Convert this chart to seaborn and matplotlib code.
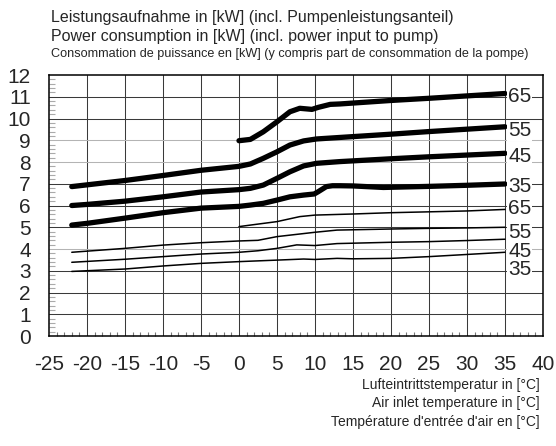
import seaborn as sns
import numpy as np
import pandas as pd
from matplotlib import pyplot as plt
from matplotlib.ticker import MultipleLocator
from matplotlib import font_manager

# air inlet temperature [°C] and power consumption [kW] per flow temperature
t_65_hi = [0, 1.5, 3.2, 5.0, 6.7, 8.0, 9.6, 10.4, 12, 13.3, 20, 25, 30, 35]
p_65_hi = [8.98, 9.04, 9.39, 9.85, 10.31, 10.47, 10.42, 10.51, 10.65, 10.67, 10.83, 10.93, 11.04, 11.15]

t_55_hi = [-22, -20, -15, -10, -5, 0, 1.5, 3.2, 5.0, 6.7, 8.5, 10.2, 13.3, 20, 25, 30, 35]
p_55_hi = [6.87, 6.95, 7.15, 7.38, 7.62, 7.80, 7.91, 8.17, 8.47, 8.78, 8.97, 9.06, 9.13, 9.28, 9.40, 9.51, 9.62]

t_45_hi = [-22, -20, -15, -10, -5, 0, 1.5, 3.2, 5.0, 6.7, 8.5, 10.2, 13.3, 20, 25, 30, 35]
p_45_hi = [6.00, 6.05, 6.20, 6.40, 6.62, 6.73, 6.79, 6.94, 7.25, 7.55, 7.82, 7.94, 8.02, 8.15, 8.24, 8.32, 8.40]

t_35_hi = [-22, -20, -15, -10, -5, 0, 1.5, 3.2, 5.0, 6.7, 8.5, 9.9, 10.4, 11.5, 12.3, 13.3, 15, 19, 25, 30, 35]
p_35_hi = [5.10, 5.18, 5.42, 5.67, 5.88, 5.96, 6.02, 6.10, 6.25, 6.40, 6.48, 6.53, 6.63, 6.87, 6.91, 6.91, 6.90, 6.83, 6.88, 6.93, 6.99]

t_65_lo = [0, 1.5, 5, 8, 10, 15, 20, 25, 30, 35]
p_65_lo = [5.03, 5.10, 5.26, 5.49, 5.56, 5.61, 5.67, 5.71, 5.75, 5.82]

t_55_lo = [-22, -15, -10, -5, 0, 2.5, 5, 8, 10, 12.9, 20, 25, 30, 35]
p_55_lo = [3.85, 4.03, 4.18, 4.29, 4.37, 4.40, 4.57, 4.69, 4.77, 4.87, 4.92, 4.95, 4.97, 5.00]

t_45_lo = [-22, -15, -10, -5, 0, 2.5, 5, 7.6, 10, 12.9, 20, 25, 30, 35]
p_45_lo = [3.39, 3.53, 3.65, 3.77, 3.85, 3.92, 4.03, 4.19, 4.16, 4.25, 4.31, 4.34, 4.39, 4.45]

t_35_lo = [-22, -15, -10, -5, 0, 5, 8.5, 10, 12.9, 15, 20, 25, 30, 35]
p_35_lo = [2.97, 3.08, 3.22, 3.34, 3.42, 3.49, 3.54, 3.52, 3.57, 3.55, 3.57, 3.65, 3.75, 3.85]

curve_labels = ["65", "55", "45", "35", "65", "55", "45", "35"]
label_y = [11.03, 9.44, 8.24, 6.87, 5.88, 4.77, 3.88, 3.08]

curves = [
    (t_65_hi, p_65_hi, "thick"), (t_55_hi, p_55_hi, "thick"),
    (t_45_hi, p_45_hi, "thick"), (t_35_hi, p_35_hi, "thick"),
    (t_65_lo, p_65_lo, "thin"), (t_55_lo, p_55_lo, "thin"),
    (t_45_lo, p_45_lo, "thin"), (t_35_lo, p_35_lo, "thin"),
]

sns.set_style("white")
plt.rcParams['font.family'] = ['Liberation Sans', 'DejaVu Sans']
plt.rcParams['axes.unicode_minus'] = False
names = set(f.name for f in font_manager.fontManager.ttflist)
narrow = 'Liberation Sans Narrow' if 'Liberation Sans Narrow' in names else 'Liberation Sans'
narrow_size = 9.65 if narrow == 'Liberation Sans Narrow' else 9.1

fig = plt.figure(figsize=(5.56, 4.46), dpi=100)
ax = fig.add_axes([0.0881, 0.2466, 0.8885, 0.5852])

# grid
for gx in range(-20, 40, 5):
    ax.axvline(gx, color='#3a3a3a', lw=0.75, zorder=1)
for gy in range(1, 12):
    c = '#b4b4b4' if gy in (4, 8, 9) else '#3a3a3a'
    ax.axhline(gy, color=c, lw=0.75, zorder=1)

for t, p, kind in curves:
    df = pd.DataFrame({"t": t, "p": p})
    lw = 3.8 if kind == "thick" else 1.1
    sns.lineplot(data=df, x="t", y="p", ax=ax, color='black', lw=lw,
                 sort=False, zorder=3, solid_capstyle='round', solid_joinstyle='round')

for lab, ly in zip(curve_labels, label_y):
    ax.text(35.4, ly, lab, fontsize=15, ha='left', va='center', zorder=4,
            bbox=dict(facecolor='white', edgecolor='none', pad=0.5))

ax.set_xlim(-25, 40)
ax.set_ylim(0, 12)
ax.set_xticks(range(-25, 41, 5))
ax.set_yticks(range(0, 13))
ax.xaxis.set_minor_locator(MultipleLocator(1))
ax.yaxis.set_minor_locator(MultipleLocator(0.2))
ax.tick_params(axis='x', which='major', length=0, pad=14, labelsize=15)
ax.tick_params(axis='y', which='major', length=0, pad=13, labelsize=15)
ax.tick_params(axis='x', which='minor', direction='in', length=3, width=0.8, color='#777777', bottom=True)
ax.tick_params(axis='y', which='minor', direction='in', length=4, width=0.8, color='#aaaaaa', left=True)
ax.set_xlabel("")
ax.set_ylabel("")
for s in ax.spines.values():
    s.set_color('black')
    s.set_linewidth(1.1)

fig.text(0.092, 0.960, "Leistungsaufnahme in [kW] (incl. Pumpenleistungsanteil)", fontsize=11.5, va='center')
fig.text(0.092, 0.918, "Power consumption in [kW] (incl. power input to pump)", fontsize=11.5, va='center')
fig.text(0.092, 0.879, "Consommation de puissance en [kW] (y compris part de consommation de la pompe)",
         fontsize=narrow_size, va='center', family=narrow)

fig.text(0.970, 0.137, "Lufteintrittstemperatur in [°C]", fontsize=10, ha='right', va='center')
fig.text(0.970, 0.096, "Air inlet temperature in [°C]", fontsize=10, ha='right', va='center')
fig.text(0.970, 0.054, "Température d'entrée d'air en [°C]", fontsize=10, ha='right', va='center')

fig.savefig("out.png", dpi=100)
